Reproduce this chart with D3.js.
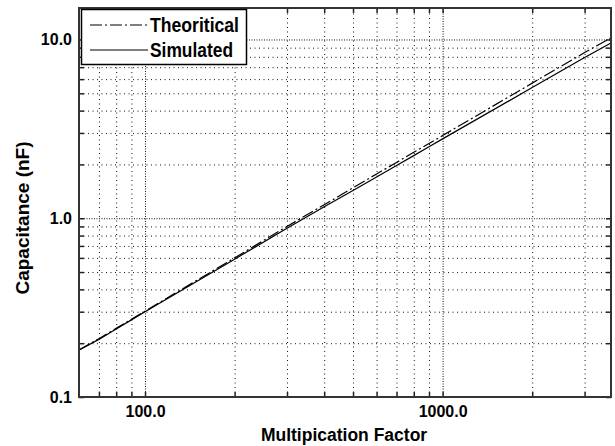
<!DOCTYPE html>
<html>
<head>
<meta charset="utf-8">
<script src="https://cdn.jsdelivr.net/npm/d3@7"></script>
<style>
  html, body { margin: 0; padding: 0; background: #fff; }
  svg { display: block; font-family: "Liberation Sans", Arial, sans-serif; }
</style>
</head>
<body>
<svg id="chart" width="615" height="446"></svg>
<script>
// ---- data ----
const factor = [60, 70, 80, 90, 100, 200, 300, 400, 500, 600, 700, 800, 900, 1000, 2000, 3000, 3680];
const theoretical = [0.183, 0.212, 0.242, 0.272, 0.302, 0.60, 0.90, 1.19, 1.48, 1.77, 2.05, 2.34, 2.62, 2.90, 5.70, 8.45, 10.2];
const simulated   = [0.183, 0.210, 0.240, 0.270, 0.300, 0.59, 0.88, 1.16, 1.43, 1.70, 1.97, 2.24, 2.51, 2.78, 5.38, 7.92, 9.56];
const seriesNames = ["Theoritical", "Simulated"];
const xMajor = [100, 1000];
const xMinor = [70, 80, 90, 200, 300, 400, 500, 600, 700, 800, 900, 2000, 3000];
const yMajor = [0.1, 1, 10];
const yMinor = [0.2, 0.3, 0.4, 0.5, 0.6, 0.7, 0.8, 0.9, 2, 3, 4, 5, 6, 7, 8, 9];
const xTickLabels = ["100.0", "1000.0"];
const yTickLabels = ["0.1", "1.0", "10.0"];
const xTitle = "Multipication Factor";
const yTitle = "Capacitance (nF)";

// ---- layout ----
const L = 79, R = 611, T = 8, B = 397;
const svg = d3.select("#chart");
const x = d3.scaleLog().domain([60, 3680]).range([L, R]);
const y = d3.scaleLog().domain([0.1, 15]).range([B, T]);
const W = R - L, H = B - T;

// ---- gridlines ----
function gridX(vals, dash) {
  const g = svg.append("g").attr("transform", `translate(0,${B})`)
    .call(d3.axisBottom(x).tickValues(vals).tickSize(-H).tickFormat(""));
  g.select(".domain").remove();
  g.selectAll("line").attr("stroke", "#111").attr("stroke-width", 1).attr("stroke-dasharray", dash);
}
function gridY(vals, dash) {
  const g = svg.append("g").attr("transform", `translate(${L},0)`)
    .call(d3.axisLeft(y).tickValues(vals).tickSize(-W).tickFormat(""));
  g.select(".domain").remove();
  g.selectAll("line").attr("stroke", "#111").attr("stroke-width", 1).attr("stroke-dasharray", dash);
}
gridX(xMinor, "1,3.5");
gridY(yMinor.filter(v => v > 0.1), "1,3.5");
gridX(xMajor, "1,1.5");
gridY([1, 10], "1,1.5");

// ---- data lines ----
const lineGen = (vals) => d3.line().x((d, i) => x(factor[i])).y((d, i) => y(vals[i]))(vals);
svg.append("path").attr("d", lineGen(simulated))
  .attr("fill", "none").attr("stroke", "#000").attr("stroke-width", 1.2);
svg.append("path").attr("d", lineGen(theoretical))
  .attr("fill", "none").attr("stroke", "#000").attr("stroke-width", 1.2)
  .attr("stroke-dasharray", "12,3,2,3");

// ---- axes with inward ticks ----
const allX = xMajor.concat(xMinor);
const allY = yMajor.concat(yMinor);
const fmtX = d => { const i = xMajor.indexOf(d); return i >= 0 ? xTickLabels[i] : ""; };
const fmtY = d => { const i = yMajor.indexOf(d); return i >= 0 ? yTickLabels[i] : ""; };

const gb = svg.append("g").attr("transform", `translate(0,${B})`)
  .call(d3.axisBottom(x).tickValues(allX).tickSize(-5).tickPadding(9).tickFormat(fmtX));
const gl = svg.append("g").attr("transform", `translate(${L},0)`)
  .call(d3.axisLeft(y).tickValues(allY).tickSize(-5).tickPadding(7).tickFormat(fmtY));
const gt = svg.append("g").attr("transform", `translate(0,${T})`)
  .call(d3.axisTop(x).tickValues(allX).tickSize(-5).tickFormat(""));
const gr = svg.append("g").attr("transform", `translate(${R},0)`)
  .call(d3.axisRight(y).tickValues(allY).tickSize(-5).tickFormat(""));
[gb, gl, gt, gr].forEach(g => {
  g.select(".domain").remove();
  g.selectAll("line").attr("stroke", "#222").attr("stroke-width", 1.5);
  g.selectAll("text").attr("fill", "#000").attr("font-size", 16).attr("font-weight", "bold")
    .attr("font-family", "'Liberation Sans', Arial, sans-serif");
});

// ---- frame ----
svg.append("rect").attr("x", L).attr("y", T).attr("width", W).attr("height", H)
  .attr("fill", "none").attr("stroke", "#333").attr("stroke-width", 2);

// ---- legend ----
const lg = svg.append("g");
lg.append("rect").attr("x", 81.5).attr("y", 9.5).attr("width", 165).attr("height", 55)
  .attr("fill", "#fff").attr("stroke", "#000").attr("stroke-width", 1.5);
const legY = [25, 50];
const legDash = ["12,3,2,3", null];
const legLen = [89, 83];
seriesNames.forEach((name, i) => {
  lg.append("line").attr("x1", 90).attr("x2", 148).attr("y1", legY[i]).attr("y2", legY[i])
    .attr("stroke", "#000").attr("stroke-width", 1.2)
    .attr("stroke-dasharray", legDash[i]);
  lg.append("text").attr("x", 150).attr("y", legY[i] + 7)
    .attr("font-size", 19.5).attr("font-weight", "bold").attr("fill", "#000")
    .attr("textLength", legLen[i]).attr("lengthAdjust", "spacingAndGlyphs")
    .text(name);
});

// ---- titles ----
svg.append("text").attr("x", 344).attr("y", 441).attr("text-anchor", "middle")
  .attr("font-size", 17.5).attr("font-weight", "bold").text(xTitle);
svg.append("text").attr("transform", "translate(29,218) rotate(-90)").attr("text-anchor", "middle")
  .attr("font-size", 19).attr("font-weight", "bold").text(yTitle);
</script>
</body>
</html>
